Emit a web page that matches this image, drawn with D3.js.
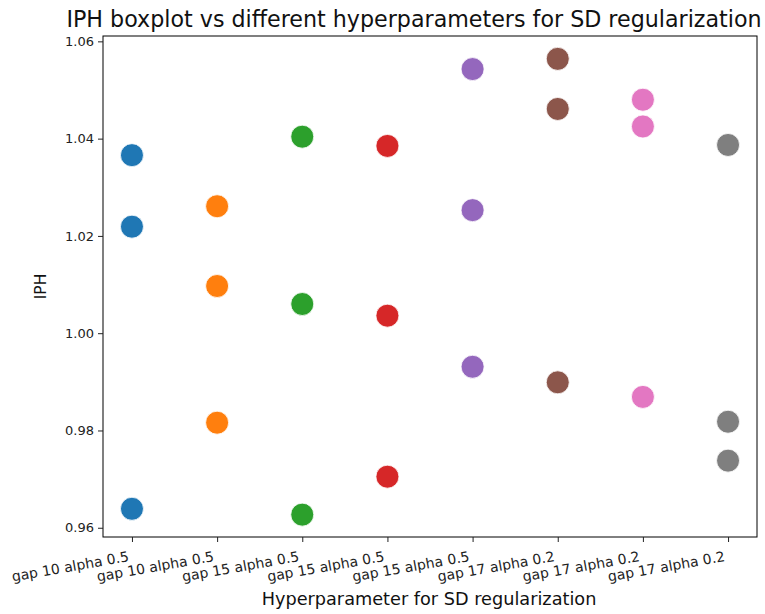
<!DOCTYPE html>
<html>
<head>
<meta charset="utf-8">
<script src="https://cdn.jsdelivr.net/npm/d3@7/dist/d3.min.js"></script>
<style>
  body { margin: 0; background: #fff; }
  svg { display: block; font-family: "DejaVu Sans", sans-serif; }
</style>
</head>
<body>
<svg id="chart" width="765" height="614"></svg>
<script>
const categories = ["gap 10 alpha 0.5", "gap 10 alpha 0.5", "gap 15 alpha 0.5", "gap 15 alpha 0.5",
                    "gap 15 alpha 0.5", "gap 17 alpha 0.2", "gap 17 alpha 0.2", "gap 17 alpha 0.2"];
const seriesValues = [
  [1.0366, 1.0219, 0.9639],
  [1.0261, 1.0097, 0.9816],
  [1.0404, 1.0060, 0.9627],
  [1.0385, 1.0036, 0.9705],
  [1.0543, 1.0253, 0.9931],
  [1.0564, 1.0461, 0.9899],
  [1.0480, 1.0425, 0.9869],
  [1.0387, 0.9818, 0.9738]
];
const colors = ["#1f77b4", "#ff7f0e", "#2ca02c", "#d62728", "#9467bd", "#8c564b", "#e377c2", "#7f7f7f"];
const yTicks = [0.96, 0.98, 1.00, 1.02, 1.04, 1.06];

const margin = { left: 103, right: 8, top: 36, bottom: 77 };
const W = 765, H = 614;
const svg = d3.select("#chart");

const x = d3.scaleLinear().domain([-0.34, 7.34]).range([margin.left, W - margin.right]);
const y = d3.scaleLinear().domain([0.9581, 1.0611]).range([H - margin.bottom, margin.top]);

// points
const pts = [];
seriesValues.forEach((vals, i) => vals.forEach(v => pts.push({ i, v })));
svg.append("g").selectAll("circle").data(pts).join("circle")
  .attr("cx", d => x(d.i))
  .attr("cy", d => y(d.v))
  .attr("r", 11.5)
  .attr("fill", d => colors[d.i])
  .attr("stroke", "#fff")
  .attr("stroke-width", 0.8);

// spines
svg.append("rect")
  .attr("x", margin.left).attr("y", margin.top)
  .attr("width", W - margin.right - margin.left)
  .attr("height", H - margin.bottom - margin.top)
  .attr("fill", "none").attr("stroke", "#000").attr("stroke-width", 1);

// y axis
const yAxis = d3.axisLeft(y).tickValues(yTicks).tickFormat(d3.format(".2f")).tickSize(5).tickPadding(4);
const gy = svg.append("g").attr("transform", `translate(${margin.left},0)`).call(yAxis);
gy.select(".domain").remove();
gy.selectAll("text").attr("font-size", 13).attr("fill", "#222").attr("font-family", "DejaVu Sans");
gy.selectAll("line").attr("stroke", "#222");

// x axis
const xAxis = d3.axisBottom(x).tickValues(d3.range(categories.length)).tickFormat(i => categories[i]).tickSize(5);
const gx = svg.append("g").attr("transform", `translate(0,${H - margin.bottom})`).call(xAxis);
gx.select(".domain").remove();
gx.selectAll("line").attr("stroke", "#222");
gx.selectAll("text")
  .attr("font-size", 14).attr("fill", "#222").attr("font-family", "DejaVu Sans")
  .attr("text-anchor", "end")
  .attr("y", 0).attr("dy", null)
  .attr("transform", "translate(-3,24) rotate(-10)");

// title
svg.append("text").attr("x", 414).attr("y", 27).attr("text-anchor", "middle")
  .attr("font-size", 22.2).attr("fill", "#111")
  .text("IPH boxplot vs different hyperparameters for SD regularization");

// axis labels
svg.append("text").attr("x", 429).attr("y", 605)
  .attr("text-anchor", "middle").attr("font-size", 17.7).attr("fill", "#111")
  .text("Hyperparameter for SD regularization");
svg.append("text").attr("transform", `translate(46,${(margin.top + H - margin.bottom) / 2}) rotate(-90)`)
  .attr("text-anchor", "middle").attr("font-size", 15.5).attr("fill", "#111")
  .text("IPH");
</script>
</body>
</html>
